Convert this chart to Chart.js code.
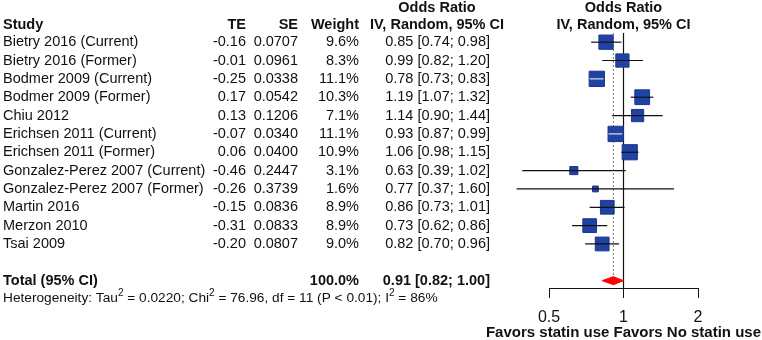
<!DOCTYPE html>
<html>
<head>
<meta charset="utf-8">
<script src="https://cdn.jsdelivr.net/npm/chart.js@4/dist/chart.umd.min.js"></script>
<style>
  html, body { margin: 0; padding: 0; background: #fff; }
  canvas { display: block; }
</style>
</head>
<body>
<canvas id="forest" width="762" height="340"></canvas>
<script>
// data
const studies = [
  'Bietry 2016 (Current)', 'Bietry 2016 (Former)', 'Bodmer 2009 (Current)', 'Bodmer 2009 (Former)',
  'Chiu 2012', 'Erichsen 2011 (Current)', 'Erichsen 2011 (Former)', 'Gonzalez-Perez 2007 (Current)',
  'Gonzalez-Perez 2007 (Former)', 'Martin 2016', 'Merzon 2010', 'Tsai 2009'
];
const teValues = [-0.16, -0.01, -0.25, 0.17, 0.13, -0.07, 0.06, -0.46, -0.26, -0.15, -0.31, -0.20];
const seValues = [0.0707, 0.0961, 0.0338, 0.0542, 0.1206, 0.0340, 0.0400, 0.2447, 0.3739, 0.0836, 0.0833, 0.0807];
const weights = [9.6, 8.3, 11.1, 10.3, 7.1, 11.1, 10.9, 3.1, 1.6, 8.9, 8.9, 9.0];
const oddsRatio = [0.85, 0.99, 0.78, 1.19, 1.14, 0.93, 1.06, 0.63, 0.77, 0.86, 0.73, 0.82];
const ciLower = [0.74, 0.82, 0.73, 1.07, 0.90, 0.87, 0.98, 0.39, 0.37, 0.73, 0.62, 0.70];
const ciUpper = [0.98, 1.20, 0.83, 1.32, 1.44, 0.99, 1.15, 1.02, 1.60, 1.01, 0.86, 0.96];
const total = [0.91, 0.82, 1.00]; // OR, lower, upper
const totalWeight = 100.0;
const xTicks = [0.5, 1, 2];
const heterogeneity = ['0.0220', '76.96', '11', '< 0.01', '86%']; // tau2, chi2, df, p, I2
const axisTitle = 'Favors statin use Favors No statin use';

const FONT = "'Liberation Sans', Arial, sans-serif";
const INK = '#111';
const TOTAL_ROW = studies.length + 1;

const sideOf = i => 4.6 * Math.sqrt(weights[i]);

// CI segments, split by null so each study is its own line
const ciPoints = [];
studies.forEach((s, i) => {
  ciPoints.push({x: ciLower[i], y: i}, {x: ciUpper[i], y: i}, {x: null, y: null});
});

const tablePlugin = {
  id: 'table',
  afterDraw(chart) {
    const c = chart.ctx;
    const y = chart.scales.y;
    const x = chart.scales.x;
    c.save();
    c.fillStyle = INK;
    c.textBaseline = 'middle';

    // headers
    const hy = y.getPixelForValue(-1) + 1;
    c.font = 'bold 14.5px ' + FONT;
    c.textAlign = 'left';
    c.fillText('Study', 3, hy);
    c.textAlign = 'right';
    c.fillText('TE', 246, hy);
    c.fillText('SE', 298, hy);
    c.fillText('Weight', 359, hy);
    c.textAlign = 'center';
    c.fillText('Odds Ratio', 437, 8);
    c.fillText('IV, Random, 95% CI', 437, hy);
    const refX = x.getPixelForValue(1);
    c.fillText('Odds Ratio', refX, 8);
    c.fillText('IV, Random, 95% CI', refX, hy);

    // study rows
    c.font = '14.5px ' + FONT;
    studies.forEach((s, i) => {
      const ry = y.getPixelForValue(i);
      c.textAlign = 'left';
      c.fillText(s, 3, ry);
      c.textAlign = 'right';
      c.fillText(teValues[i].toFixed(2), 246, ry);
      c.fillText(seValues[i].toFixed(4), 298, ry);
      c.fillText(weights[i].toFixed(1) + '%', 359, ry);
      c.fillText(oddsRatio[i].toFixed(2) + ' [' + ciLower[i].toFixed(2) + '; ' + ciUpper[i].toFixed(2) + ']', 490, ry);
    });

    // total row
    const ty = y.getPixelForValue(TOTAL_ROW);
    c.font = 'bold 14.5px ' + FONT;
    c.textAlign = 'left';
    c.fillText('Total (95% CI)', 3, ty);
    c.textAlign = 'right';
    c.fillText(totalWeight.toFixed(1) + '%', 359, ty);
    c.fillText(total[0].toFixed(2) + ' [' + total[1].toFixed(2) + '; ' + total[2].toFixed(2) + ']', 490, ty);

    // heterogeneity line with superscripts
    const hgy = y.getPixelForValue(TOTAL_ROW + 1) - 1;
    const parts = [
      ['Heterogeneity: Tau', 0], ['2', 1], [' = ' + heterogeneity[0] + '; Chi', 0], ['2', 1],
      [' = ' + heterogeneity[1] + ', df = ' + heterogeneity[2] + ' (P ' + heterogeneity[3] + '); I', 0], ['2', 1],
      [' = ' + heterogeneity[4], 0]
    ];
    c.textAlign = 'left';
    let px = 3;
    parts.forEach(([t, sup]) => {
      c.font = (sup ? '10px ' : '13.7px ') + FONT;
      c.fillText(t, px, sup ? hgy - 5 : hgy);
      px += c.measureText(t).width;
    });

    // axis title, centred under the axis
    c.font = 'bold 15px ' + FONT;
    c.textAlign = 'center';
    c.fillText(axisTitle, (x.left + x.right) / 2, 333);
    c.restore();
  }
};

new Chart(document.getElementById('forest'), {
  type: 'scatter',
  data: {
    datasets: [
      {
        // confidence intervals
        data: ciPoints,
        showLine: true,
        spanGaps: false,
        pointRadius: 0,
        borderWidth: 1.2,
        borderColor: INK,
        segment: {
          borderColor: ctx => {
            const i = Math.floor(ctx.p0DataIndex / 3);
            return (ctx.p1.x - ctx.p0.x) < sideOf(i) ? '#e0e0e0' : INK;
          }
        },
        clip: false
      },
      {
        // study weights as squares
        data: studies.map((s, i) => ({x: oddsRatio[i], y: i})),
        pointStyle: 'rect',
        pointRadius: ctx => sideOf(ctx.dataIndex) / Math.SQRT2,
        backgroundColor: '#2142a3',
        borderColor: '#1b3790',
        borderWidth: 1,
        clip: false
      },
      {
        // pooled estimate diamond
        data: [
          {x: total[1], y: TOTAL_ROW}, {x: total[0], y: TOTAL_ROW - 0.22},
          {x: total[2], y: TOTAL_ROW}, {x: total[0], y: TOTAL_ROW + 0.22},
          {x: total[1], y: TOTAL_ROW}
        ],
        showLine: true,
        fill: 'shape',
        pointRadius: 0,
        borderWidth: 1,
        borderColor: '#ff0000',
        backgroundColor: '#ff0000',
        clip: false
      },
      {
        // line of no effect
        data: [{x: 1, y: -0.5}, {x: 1, y: 13.4}],
        showLine: true,
        pointRadius: 0,
        borderWidth: 1.2,
        borderColor: INK,
        clip: false
      },
      {
        // pooled estimate line
        data: [{x: total[0], y: -0.5}, {x: total[0], y: TOTAL_ROW - 0.3}],
        showLine: true,
        pointRadius: 0,
        borderWidth: 1,
        borderDash: [2, 2],
        borderColor: '#777',
        clip: false
      }
    ]
  },
  options: {
    responsive: false,
    devicePixelRatio: 1,
    animation: false,
    layout: {padding: {left: 549, right: 64, top: 33, bottom: 6}},
    plugins: {legend: {display: false}, tooltip: {enabled: false}},
    scales: {
      x: {
        type: 'logarithmic',
        min: 0.5,
        max: 2,
        afterBuildTicks: s => { s.ticks = xTicks.map(v => ({value: v})); },
        afterFit: s => { s.height = 46; },
        ticks: {
          callback: v => String(v),
          font: {size: 16, family: FONT},
          color: INK,
          padding: 10,
          autoSkip: false,
          maxRotation: 0
        },
        grid: {drawOnChartArea: false, drawTicks: true, tickLength: 10, color: INK, lineWidth: 1},
        border: {display: true, color: INK, width: 1},
        title: {display: false}
      },
      y: {
        type: 'linear',
        min: -0.5,
        max: 13.4,
        reverse: true,
        display: false
      }
    }
  },
  plugins: [tablePlugin]
});
</script>
</body>
</html>
